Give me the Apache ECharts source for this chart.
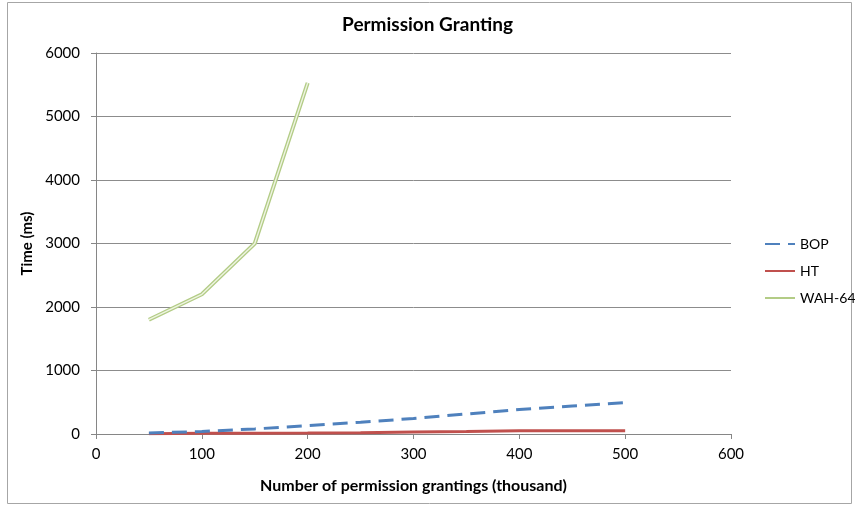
<!DOCTYPE html>
<html>
<head>
<meta charset="utf-8">
<script src="https://cdn.jsdelivr.net/npm/echarts@6/dist/echarts.min.js"></script>
<style>
  html, body { margin: 0; padding: 0; background: #ffffff; }
  #chart { width: 855px; height: 506px; }
</style>
</head>
<body>
<div id="chart"></div>
<script>
// Number of permission grantings (thousand)
const grantings = [50, 100, 150, 200, 250, 300, 350, 400, 450, 500];
const wahGrantings = [50, 100, 150, 200];

// Time (ms)
const bopTime = [15, 40, 80, 130, 185, 245, 315, 385, 440, 495];
const htTime = [5, 10, 12, 15, 20, 30, 38, 50, 52, 53];
const wahTime = [1800, 2200, 3000, 5530];

const seriesNames = ['BOP', 'HT', 'WAH-64'];

const pairs = (xs, ys) => xs.map((x, i) => [x, ys[i]]);

const font = 'Lato, "Open Sans", "Liberation Sans", sans-serif';

const chart = echarts.init(document.getElementById('chart'), null, { renderer: 'canvas' });

chart.setOption({
  animation: false,
  backgroundColor: '#ffffff',
  graphic: [{
    type: 'rect',
    shape: { x: 7.5, y: 2.5, width: 844, height: 501 },
    style: { fill: 'none', stroke: '#a6a6a6', lineWidth: 1 },
    silent: true
  }],
  title: {
    text: 'Permission Granting',
    left: 'center',
    top: 10,
    textStyle: { fontFamily: font, fontSize: 19, fontWeight: 'bold', color: '#000000' }
  },
  legend: {
    orient: 'vertical',
    left: 759,
    top: 232,
    itemGap: 13,
    itemWidth: 30,
    itemHeight: 14,
    data: seriesNames,
    itemStyle: { opacity: 0 },
    textStyle: { fontFamily: font, fontSize: 14, color: '#000000' }
  },
  grid: { left: 96, right: 124, top: 53, bottom: 72, containLabel: false },
  xAxis: {
    type: 'value',
    min: 0, max: 600, interval: 100,
    name: 'Number of permission grantings (thousand)',
    nameLocation: 'middle',
    nameGap: 44,
    nameTextStyle: { fontFamily: font, fontSize: 16, fontWeight: 'bold', color: '#000000' },
    axisLine: { show: true, lineStyle: { color: '#868686', width: 1 } },
    axisTick: { show: true, inside: false, length: 5, lineStyle: { color: '#868686' } },
    axisLabel: { margin: 13, fontFamily: font, fontSize: 15, color: '#000000' },
    splitLine: { show: false }
  },
  yAxis: {
    type: 'value',
    min: 0, max: 6000, interval: 1000,
    name: 'Time (ms)',
    nameLocation: 'middle',
    nameGap: 58,
    nameRotate: 90,
    nameTextStyle: { fontFamily: font, fontSize: 15, fontWeight: 'bold', color: '#000000' },
    axisLine: { show: true, lineStyle: { color: '#868686', width: 1 } },
    axisTick: { show: true, inside: false, length: 5, lineStyle: { color: '#868686' } },
    axisLabel: {
      margin: 16, fontFamily: font, fontSize: 15, color: '#000000',
      formatter: (v) => String(v)
    },
    splitLine: { show: true, lineStyle: { color: '#8c8c8c', width: 1 } }
  },
  series: [
    {
      name: 'BOP',
      type: 'line',
      data: pairs(grantings, bopTime),
      showSymbol: false,
      symbol: 'none',
      lineStyle: { color: '#4f81bd', width: 3, type: [15, 8], cap: 'butt' },
      itemStyle: { color: '#4f81bd' },
      z: 3
    },
    {
      name: 'HT',
      type: 'line',
      data: pairs(grantings, htTime),
      showSymbol: false,
      symbol: 'none',
      lineStyle: { color: '#c0504d', width: 3 },
      itemStyle: { color: '#c0504d' },
      z: 2
    },
    {
      name: 'WAH-64',
      type: 'line',
      data: pairs(wahGrantings, wahTime),
      showSymbol: false,
      symbol: 'none',
      lineStyle: { color: '#b3cc86', width: 4 },
      itemStyle: { color: '#b3cc86' },
      z: 3
    },
    {
      // inner stroke giving the WAH-64 line its double-edged look
      name: 'WAH-64 inner',
      type: 'line',
      data: pairs(wahGrantings, wahTime),
      showSymbol: false,
      symbol: 'none',
      silent: true,
      lineStyle: { color: '#eef4e2', width: 1.4 },
      itemStyle: { color: '#eef4e2' },
      z: 4
    }
  ]
});
</script>
</body>
</html>
